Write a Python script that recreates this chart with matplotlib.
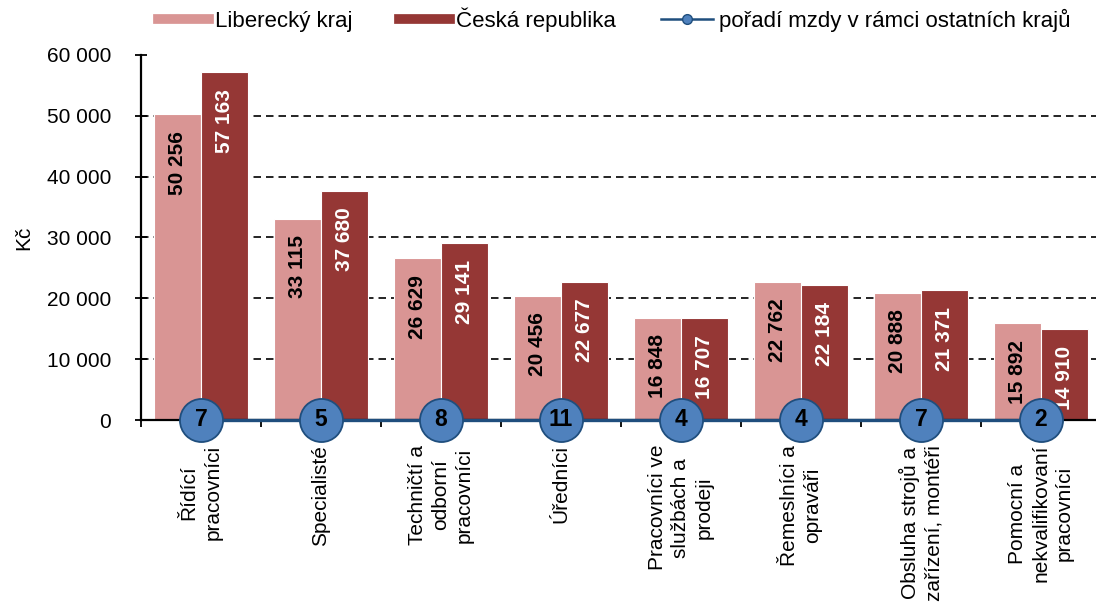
import numpy as np
import matplotlib
matplotlib.use("Agg")
import matplotlib.pyplot as plt
from matplotlib.lines import Line2D
from matplotlib.ticker import FuncFormatter, FixedLocator

# ── data ──────────────────────────────────────────────
categories = [
    "Řídící\npracovníci",
    "Specialisté",
    "Techničtí a\nodborní\npracovníci",
    "Úředníci",
    "Pracovníci ve\nslužbách a\nprodeji",
    "Řemeslníci a\nopraváři",
    "Obsluha strojů a\nzařízení, montéři",
    "Pomocní a\nnekvalifikovaní\npracovníci",
]
liberec = [50256, 33115, 26629, 20456, 16848, 22762, 20888, 15892]
cr = [57163, 37680, 29141, 22677, 16707, 22184, 21371, 14910]
rank = [7, 5, 8, 11, 4, 4, 7, 2]

C_LIB = "#D99594"
C_CR = "#953735"
C_DOT = "#4F81BD"
C_LINE = "#1F4E7D"
FS = 15

plt.rcParams["font.family"] = ["Liberation Sans", "DejaVu Sans"]

def fmt(v, pos=None):
    return f"{int(v):,}".replace(",", " ")

fig = plt.figure(figsize=(10.96, 6.03), dpi=100)
ax = fig.add_axes([141 / 1096, 1 - 420 / 603, 960 / 1096, 365 / 603])

x = np.arange(len(categories))
w = 0.395
ax.bar(x - w / 2, liberec, w, color=C_LIB, edgecolor="white", lw=0.8, zorder=2)
ax.bar(x + w / 2, cr, w, color=C_CR, edgecolor="white", lw=0.8, zorder=2)

# dashed grid
for g in range(10000, 60000, 10000):
    ax.axhline(g, color="black", lw=1.2, ls=(0, (4.5, 3)), zorder=1)

# value labels inside the bar ends
for xi, v in zip(x - w / 2, liberec):
    ax.annotate(fmt(v), (xi, v), xytext=(0, -12), textcoords="offset points",
                rotation=90, ha="center", va="top", fontsize=FS,
                fontweight="bold", color="black", zorder=3)
for xi, v in zip(x + w / 2, cr):
    ax.annotate(fmt(v), (xi, v), xytext=(0, -12), textcoords="offset points",
                rotation=90, ha="center", va="top", fontsize=FS,
                fontweight="bold", color="white", zorder=3)

# rank line with circles
ax.plot(x, np.zeros(len(x)), color=C_LINE, lw=2.4, zorder=4, clip_on=False)
ax.plot(x, np.zeros(len(x)), ls="none", marker="o", ms=31, mfc=C_DOT,
        mec=C_LINE, mew=1.3, zorder=5, clip_on=False)
for xi, r in zip(x, rank):
    ax.text(xi, 0, str(r), ha="center", va="center", fontsize=16.5,
            fontweight="bold", color="black", zorder=6, clip_on=False)

ax.set_xlim(-0.5, len(x) - 0.5)
ax.set_ylim(0, 60000)
ax.set_yticks(range(0, 60001, 10000))
ax.yaxis.set_major_formatter(FuncFormatter(fmt))
ax.tick_params(axis="y", direction="inout", length=9, width=1.3,
               labelsize=FS, pad=17)

ax.set_xticks(x)
ax.set_xticklabels(categories, rotation=90, ha="center", va="top",
                   multialignment="center", fontsize=FS, linespacing=1.3)
ax.tick_params(axis="x", length=0, pad=18)
ax.xaxis.set_minor_locator(FixedLocator(np.arange(-0.5, len(x), 1.0)))
ax.tick_params(axis="x", which="minor", direction="out", length=5, width=1.3)

for s in ["top", "right"]:
    ax.spines[s].set_visible(False)
ax.spines["left"].set_linewidth(1.6)
ax.spines["bottom"].set_linewidth(1.6)

ax.set_ylabel("Kč", fontsize=FS, labelpad=10)

handles = [
    Line2D([], [], color=C_LIB, lw=7),
    Line2D([], [], color=C_CR, lw=7),
    Line2D([], [], color=C_LINE, lw=1.8, marker="o", ms=7, mfc=C_DOT, mec=C_LINE),
]
labels = ["Liberecký kraj", "Česká republika", "pořadí mzdy v rámci ostatních krajů"]
fig.legend(handles, labels, loc="center", bbox_to_anchor=(614 / 1096, 1 - 20 / 603),
           ncol=3, frameon=False, fontsize=16, handlelength=2.3,
           handletextpad=0.27, columnspacing=2.07)

fig.savefig("out.png", dpi=100)
